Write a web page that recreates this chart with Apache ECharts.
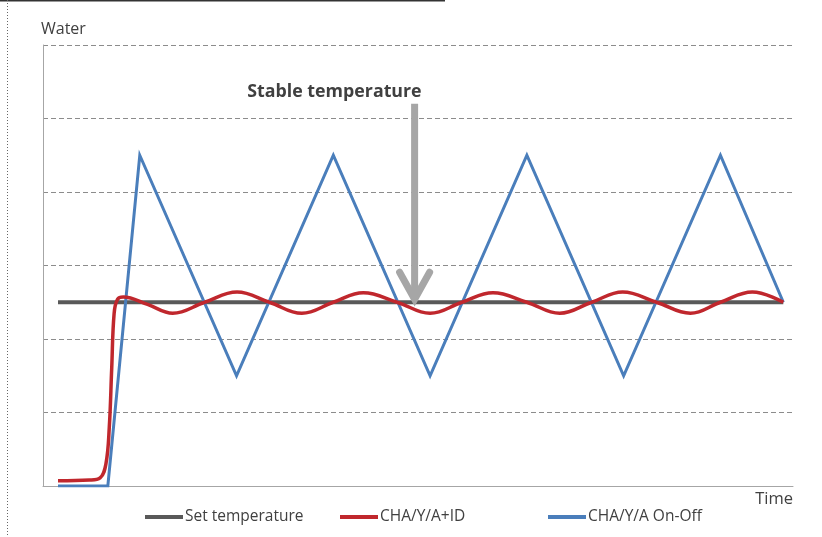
<!DOCTYPE html>
<html>
<head>
<meta charset="utf-8">
<script src="https://cdn.jsdelivr.net/npm/echarts@6/dist/echarts.min.js"></script>
<style>
html,body{margin:0;padding:0;background:#fff;}
#c{width:822px;height:537px;}
</style>
</head>
<body>
<div id="c"></div>
<script>
// ---- data (x in time units, y in water temperature units) ----
const setTemperature = [[1.55, 2.5], [76.5, 2.5]];
const pidSeries = [
  [1.55, 0.07], [4.8, 0.08], [5.9, 0.11], [6.5, 0.3], [6.85, 0.8], [7.1, 1.6],
  [7.35, 2.35], [7.7, 2.54], [8.3, 2.57], [10.8, 2.47], [13.4, 2.35], [16.7, 2.5],
  [20.05, 2.64], [23.4, 2.5], [26.75, 2.35], [30.0, 2.5], [33.1, 2.63], [36.6, 2.5],
  [40.0, 2.35], [43.3, 2.5], [46.5, 2.63], [50.0, 2.5], [53.4, 2.35], [56.7, 2.5],
  [59.9, 2.64], [63.4, 2.5], [66.9, 2.35], [70.0, 2.5], [73.3, 2.64], [76.5, 2.5]
];
const onOffSeries = [
  [1.55, 0], [6.7, 0], [10, 4.5], [20, 1.5], [30, 4.5], [40, 1.5],
  [50, 4.5], [60, 1.5], [70, 4.5], [76.5, 2.5]
];
const seriesNames = ['Set temperature', 'CHA/Y/A+ID', 'CHA/Y/A On-Off'];
const annotationText = 'Stable temperature';
const arrowX = 38.4, arrowTop = 5.2, arrowTip = 2.5;

const FONT = '"Open Sans", "Noto Sans", sans-serif';
const TXT = '#404040';
const chart = echarts.init(document.getElementById('c'), null, {renderer: 'canvas'});

function legendAt(name, left) {
  return {
    data: [name], left: left, top: 509, padding: 0, icon: 'rect',
    itemWidth: 38, itemHeight: 4, itemGap: 0,
    textStyle: {fontFamily: FONT, fontSize: 15.5, color: TXT, padding: [0, 0, 0, -3]},
    selectedMode: false
  };
}

chart.setOption({
  animation: false,
  backgroundColor: '#fff',
  grid: {left: 43, right: 29, top: 45, bottom: 51, containLabel: false},
  xAxis: {
    type: 'value', min: 0, max: 77.5,
    name: 'Time', nameLocation: 'end', nameGap: 0,
    nameTextStyle: {fontFamily: FONT, fontSize: 16.5, color: TXT, align: 'right', verticalAlign: 'top', padding: [5, 0, 0, 0]},
    axisLine: {show: true, lineStyle: {color: '#a6a6a6', width: 1}},
    axisTick: {show: false}, axisLabel: {show: false}, splitLine: {show: false}
  },
  yAxis: {
    type: 'value', min: 0, max: 6, interval: 1,
    name: 'Water', nameLocation: 'end', nameGap: 8,
    nameTextStyle: {fontFamily: FONT, fontSize: 16, color: TXT, align: 'left', verticalAlign: 'bottom', padding: [0, 0, 0, -2]},
    axisLine: {show: true, lineStyle: {color: '#a6a6a6', width: 1}},
    axisTick: {show: false}, axisLabel: {show: false},
    splitLine: {show: true, lineStyle: {color: '#8c8c8c', width: 1, type: [5, 3]}}
  },
  legend: [legendAt(seriesNames[0], 145), legendAt(seriesNames[1], 340), legendAt(seriesNames[2], 548)],
  series: [
    {name: seriesNames[0], type: 'line', data: setTemperature, showSymbol: false, symbol: 'none',
     lineStyle: {color: '#595959', width: 4}, itemStyle: {color: '#595959'}, z: 2},
    {name: seriesNames[2], type: 'line', data: onOffSeries, showSymbol: false, symbol: 'none',
     lineStyle: {color: '#4a7ebb', width: 3, join: 'miter'}, itemStyle: {color: '#4a7ebb'}, z: 3},
    {name: seriesNames[1], type: 'line', data: pidSeries, showSymbol: false, symbol: 'none', smooth: 0.4,
     lineStyle: {color: '#c0272d', width: 3.5}, itemStyle: {color: '#c0272d'}, z: 4}
  ]
});

const arrTopPx = chart.convertToPixel({gridIndex: 0}, [arrowX, arrowTop]);
const arrTipPx = chart.convertToPixel({gridIndex: 0}, [arrowX, arrowTip]);
const ARW = '#a6a6a6';
chart.setOption({
  graphic: [
    {type: 'line', shape: {x1: 0, y1: 0.5, x2: 445, y2: 0.5}, style: {stroke: '#333', lineWidth: 2}},
    {type: 'line', shape: {x1: 7.5, y1: 0, x2: 7.5, y2: 537}, style: {stroke: '#666', lineWidth: 1, lineDash: [1, 2]}},
    {type: 'line', shape: {x1: arrTopPx[0], y1: arrTopPx[1], x2: arrTipPx[0], y2: arrTipPx[1] - 6}, style: {stroke: ARW, lineWidth: 7}, z: 10},
    {type: 'polyline', shape: {points: [[arrTipPx[0] - 15, arrTipPx[1] - 30], [arrTipPx[0], arrTipPx[1] - 3], [arrTipPx[0] + 15, arrTipPx[1] - 30]]},
     style: {stroke: ARW, lineWidth: 7, lineCap: 'round', lineJoin: 'miter', fill: null}, z: 10},
    {type: 'text', x: arrTopPx[0] + 7, y: arrTopPx[1] - 3, z: 10,
     style: {text: annotationText, fill: TXT, font: 'bold 17.8px ' + FONT, align: 'right', verticalAlign: 'bottom'}}
  ]
});
</script>
</body>
</html>
